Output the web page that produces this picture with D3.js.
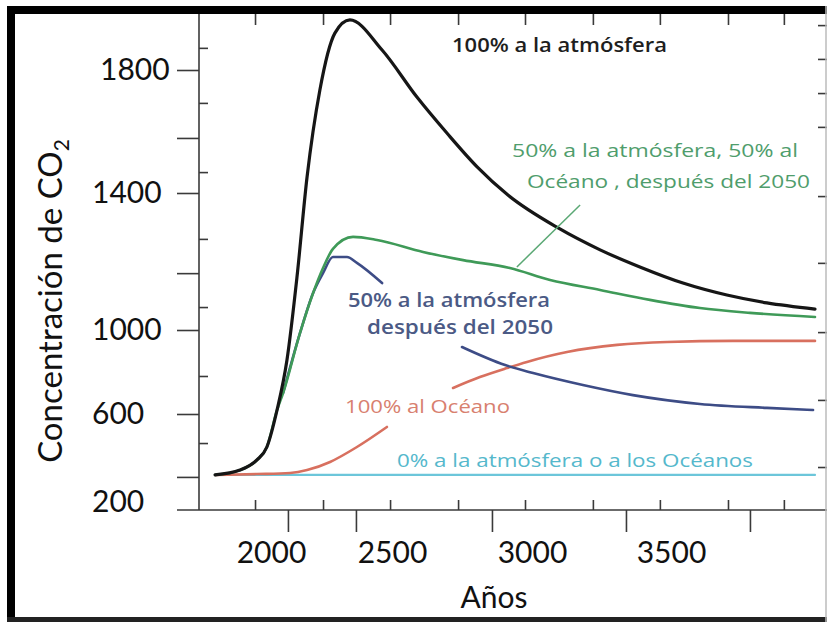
<!DOCTYPE html>
<html><head><meta charset="utf-8">
<script src="https://cdn.jsdelivr.net/npm/d3@7"></script>
<style>body{margin:0;background:#fff} svg{display:block}</style>
</head><body>
<script>
// ---------- data ----------
const xLabelYears = [2000, 2500, 3000, 3500];
const yLabelValues = [200, 600, 1000, 1400, 1800];
const xMajorTicks = [2070, 2351, 2857, 3338, 3784];
const xMinorTicks = [1934, 2215, 2492, 2736, 2975, 3219, 3460, 3705, 3906];
const yLongTicks = [1800, 1579, 1400, 1166, 1000, 600, 314];
const yInnerTicks = [1872, 1693, 1468, 1266, 1067, 781, 468];
const yRightTicks = [1946, 1836, 1725, 1615, 1391, 1196, 990, 667, 359];

const yearsBlack = [1769, 1872, 1942, 1983, 2025, 2066, 2107, 2149, 2202, 2264, 2326, 2459, 2589, 2696, 2804, 2914, 3094, 3245, 3388, 3543, 3701, 3845, 4018];
const valuesBlack = [323, 345, 391, 450, 619, 857, 1152, 1452, 1735, 1920, 1963, 1865, 1712, 1595, 1485, 1394, 1298, 1234, 1184, 1137, 1102, 1079, 1061];

const yearsGreen = [1769, 1872, 1942, 1983, 2025, 2050, 2120, 2174, 2215, 2256, 2339, 2438, 2611, 2754, 2921, 3065, 3245, 3424, 3604, 3784, 4018];
const valuesGreen = [323, 345, 391, 450, 619, 700, 986, 1108, 1181, 1237, 1272, 1263, 1228, 1204, 1181, 1146, 1117, 1088, 1064, 1050, 1038];

const yearsBlue = [2050, 2120, 2174, 2215, 2256, 2314, 2355, 2459, 2600, 2750, 2904, 3004, 3183, 3363, 3604, 3845, 4011];
const valuesBlue = [700, 986, 1108, 1166, 1213, 1213, 1196, 1137, null, 919, 833, 795, 738, 690, 648, 629, 619];

const yearsRed = [1769, 1942, 2079, 2149, 2244, 2355, 2479, 2600, 2718, 2814, 2911, 2982, 3126, 3306, 3486, 3723, 4018];
const valuesRed = [323, 327, 332, 345, 382, 450, 541, null, 724, 776, 819, 848, 895, 929, 943, 948, 948];

const yearsCyan = [1769, 4018];
const valuesCyan = [323, 323];

const leaderYears = [3173, 2946];
const leaderValues = [1365, 1184];

// ---------- layout ----------
const W = 827, H = 622;
const X0 = 199, TOP = 13, BOTTOM = 510, RIGHT = 827;
const axisColor = "#3a3a3a";

const svg = d3.select("body").append("svg").attr("width", W).attr("height", H);
svg.append("rect").attr("width", W).attr("height", H).attr("fill", "#fff");

const x = d3.scaleLinear().domain(xLabelYears).range([271, 392, 532, 671]);
const y = d3.scaleLinear().domain(yLabelValues).range([502, 414, 330, 193, 70]);

function styleAxis(g) {
  g.select(".domain").remove();
  g.selectAll("line").attr("stroke", axisColor).attr("stroke-width", 1.6);
}

// axis lines
svg.append("line").attr("x1", X0).attr("x2", X0).attr("y1", TOP).attr("y2", BOTTOM)
  .attr("stroke", axisColor).attr("stroke-width", 1.6);
svg.append("line").attr("x1", 177).attr("x2", RIGHT).attr("y1", BOTTOM).attr("y2", BOTTOM)
  .attr("stroke", axisColor).attr("stroke-width", 1.6);

// left ticks
svg.append("g").attr("transform", `translate(${X0},0)`)
  .call(d3.axisLeft(y).tickValues(yLongTicks).tickSize(22).tickFormat(""))
  .call(styleAxis);
svg.append("g").attr("transform", `translate(${X0},0)`)
  .call(d3.axisRight(y).tickValues(yInnerTicks).tickSize(9).tickFormat(""))
  .call(styleAxis);
const gl = svg.append("g").attr("transform", `translate(${X0},0)`)
  .call(d3.axisLeft(y).tickValues(yLabelValues).tickSize(0).tickPadding(0).tickFormat(d3.format("d")))
  .call(styleAxis);
gl.selectAll("text").attr("text-anchor", "start")
  .attr("x", d => d === 1800 ? -99 : -107)
  .attr("font-family", "Lato").attr("font-size", 30).attr("fill", "#111");

// right edge ticks
svg.append("g").attr("transform", `translate(${RIGHT},0)`)
  .call(d3.axisLeft(y).tickValues(yRightTicks).tickSize(9).tickFormat(""))
  .call(styleAxis);

// bottom ticks
svg.append("g").attr("transform", `translate(0,${BOTTOM})`)
  .call(d3.axisBottom(x).tickValues(xMajorTicks).tickSize(22).tickFormat(""))
  .call(styleAxis);
svg.append("g").attr("transform", `translate(0,${BOTTOM})`)
  .call(d3.axisTop(x).tickValues(xMinorTicks).tickSize(10).tickFormat(""))
  .call(styleAxis);
const gb = svg.append("g").attr("transform", `translate(0,${BOTTOM})`)
  .call(d3.axisBottom(x).tickValues(xLabelYears).tickSize(0).tickFormat(d3.format("d")))
  .call(styleAxis);
gb.selectAll("text").attr("y", 53).attr("dy", 0)
  .attr("font-family", "Lato").attr("font-size", 30).attr("fill", "#111");

// top ticks
svg.append("g").attr("transform", `translate(0,${TOP})`)
  .call(d3.axisBottom(x).tickValues(xMinorTicks).tickSize(12).tickFormat(""))
  .call(styleAxis);

// ---------- series ----------
const line = d3.line().defined(d => d.v != null)
  .x(d => x(d.t)).y(d => y(d.v)).curve(d3.curveMonotoneX);
function series(years, values) { return years.map((t, i) => ({ t, v: values[i] })); }

const seriesDefs = [
  { years: yearsCyan, values: valuesCyan, color: "#6cc6da", w: 2.2 },
  { years: yearsRed, values: valuesRed, color: "#d8705f", w: 2.6 },
  { years: yearsBlue, values: valuesBlue, color: "#3d4c86", w: 2.6 },
  { years: yearsGreen, values: valuesGreen, color: "#3f9a58", w: 2.6 },
  { years: yearsBlack, values: valuesBlack, color: "#161616", w: 3.2 }
];
seriesDefs.forEach(s => {
  svg.append("path").datum(series(s.years, s.values))
    .attr("d", line).attr("fill", "none").attr("stroke", s.color)
    .attr("stroke-width", s.w).attr("stroke-linejoin", "round").attr("stroke-linecap", "round");
});

// leader line
svg.append("path").datum(series(leaderYears, leaderValues))
  .attr("d", d3.line().x(d => x(d.t)).y(d => y(d.v)))
  .attr("stroke", "#5aa874").attr("stroke-width", 1.5).attr("fill", "none");

// ---------- labels ----------
const labelFont = "'Open Sans', 'DejaVu Sans', sans-serif";
const labels = [
  { t: "100% a la atmósfera", x: 452, y: 52, w: 215, c: "#1e1e1e", fw: 600 },
  { t: "50% a la atmósfera, 50% al", x: 512, y: 157, w: 286, c: "#4f9d6c", fw: 400 },
  { t: "Océano , después del 2050", x: 527, y: 188, w: 283, c: "#4f9d6c", fw: 400 },
  { t: "50% a la atmósfera", x: 348, y: 307, w: 202, c: "#4b5a85", fw: 600 },
  { t: "después del 2050", x: 367, y: 334, w: 186, c: "#4b5a85", fw: 600 },
  { t: "100% al Océano", x: 345, y: 413, w: 165, c: "#d8806f", fw: 400 },
  { t: "0% a la atmósfera o a los Océanos", x: 397, y: 467, w: 356, c: "#55b8cc", fw: 400 }
];
labels.forEach(l => {
  svg.append("text").attr("x", l.x).attr("y", l.y).text(l.t)
    .attr("font-family", labelFont).attr("font-size", 19).attr("font-weight", l.fw)
    .attr("fill", l.c).attr("textLength", l.w).attr("lengthAdjust", "spacingAndGlyphs");
});

// axis titles
const title = svg.append("text").attr("transform", "translate(62,301) rotate(-90)")
  .attr("text-anchor", "middle").attr("font-family", "Lato").attr("font-size", 33).attr("fill", "#111");
title.append("tspan").text("Concentración de CO");
title.append("tspan").attr("font-size", 21).attr("dy", 7).text("2");

svg.append("text").attr("x", 494).attr("y", 608).attr("text-anchor", "middle")
  .attr("font-family", "Lato").attr("font-size", 30).attr("fill", "#111").text("Años");

// ---------- frame ----------
svg.append("rect").attr("x", 7).attr("y", 6).attr("width", W - 7).attr("height", 8).attr("fill", "#000");
svg.append("rect").attr("x", 7).attr("y", 6).attr("width", 8).attr("height", H - 6).attr("fill", "#000");
svg.append("rect").attr("x", 7).attr("y", 617).attr("width", W - 7).attr("height", 5).attr("fill", "#222");
svg.append("line").attr("x1", 826).attr("x2", 826).attr("y1", 6).attr("y2", H).attr("stroke", "#bbb").attr("stroke-width", 1.5);
</script>
</body></html>
